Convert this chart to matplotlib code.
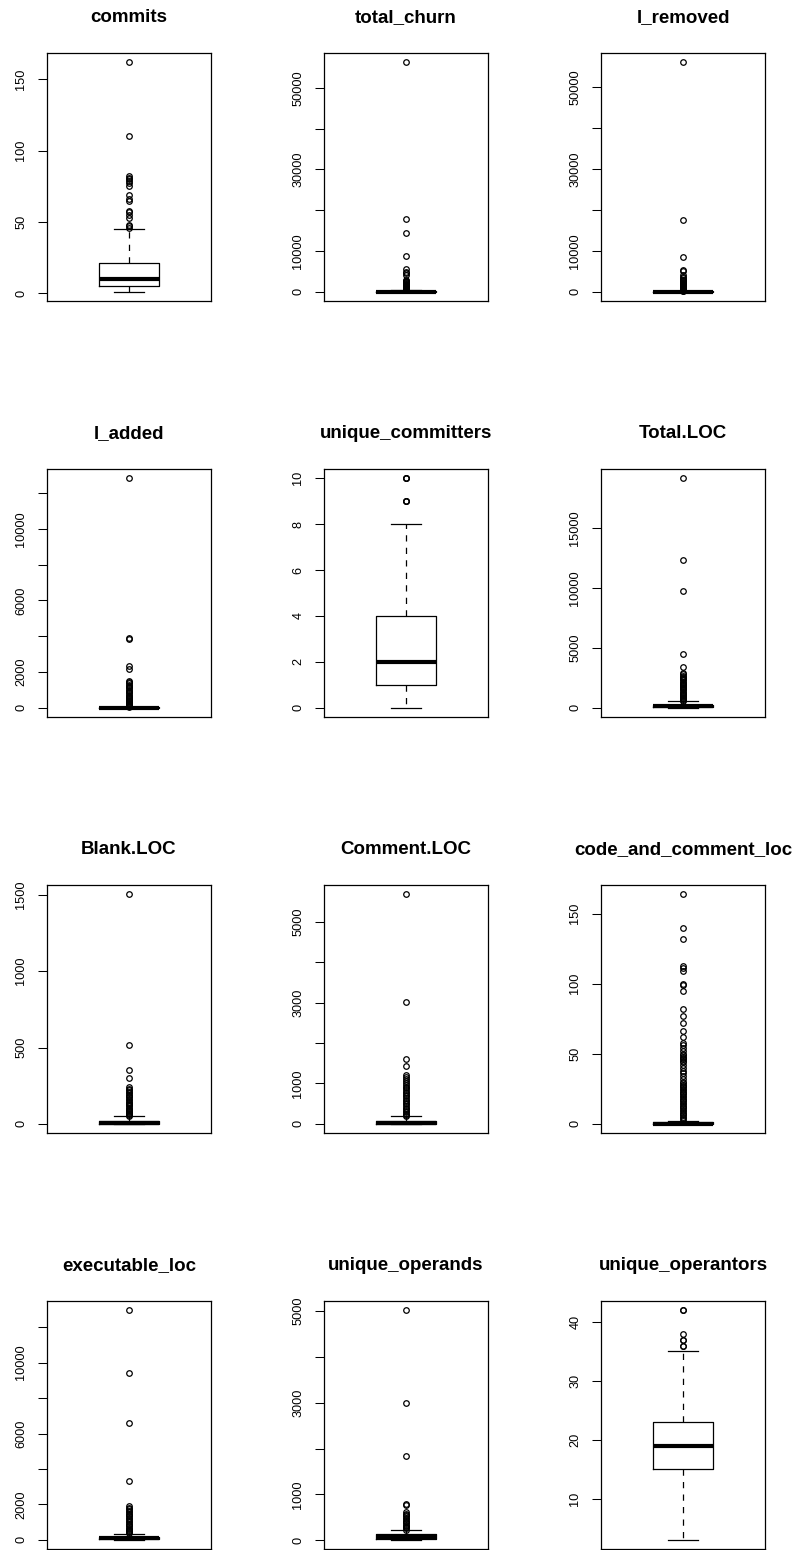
import matplotlib
matplotlib.use('Agg')
import matplotlib.pyplot as plt

plt.rc('font', family=['Liberation Sans', 'DejaVu Sans'])

# ---- data (R-style boxplot summaries) ----
names = ['commits', 'total_churn', 'l_removed',
         'l_added', 'unique_committers', 'Total.LOC',
         'Blank.LOC', 'Comment.LOC', 'code_and_comment_loc',
         'executable_loc', 'unique_operands', 'unique_operantors']

# whislo, q1, median, q3, whishi
commits_box = [1, 5, 10, 21, 45]
commits_out = [46, 47, 48, 53, 55, 57, 58, 65, 66, 69, 75, 77, 79, 80, 81, 82,
               110, 162]

churn_box = [0, 10, 40, 150, 350]
churn_out = [380, 420, 470, 520, 580, 640, 710, 790, 870, 950, 1040, 1130,
             1230, 1340, 1460, 1580, 1720, 1860, 2000, 2150, 2300, 2450, 2600,
             2750, 2900, 4100, 4600, 4950, 5500, 8800, 14300, 17800, 56300]

removed_box = [0, 5, 20, 80, 200]
removed_out = [250, 290, 340, 400, 460, 530, 610, 700, 800, 900, 1010, 1130,
               1260, 1400, 1550, 1700, 1860, 2030, 2200, 2400, 2600, 2800,
               3000, 3300, 3700, 4160, 4980, 5380, 8400, 17600, 56100]

added_box = [0, 2, 8, 20, 50]
added_out = [60, 90, 120, 150, 190, 230, 270, 320, 370, 420, 480, 540, 600,
             660, 730, 800, 870, 940, 1010, 1080, 1150, 1220, 1300, 1370,
             1440, 1520, 2150, 2340, 3850, 3900, 12820]

committers_box = [0, 1, 2, 4, 8]
committers_out = [9, 9, 9, 10, 10, 10]

total_loc_box = [0, 40, 110, 230, 560]
total_loc_out = [600, 680, 760, 840, 920, 1000, 1090, 1180, 1270, 1360, 1450,
                 1540, 1630, 1720, 1810, 1900, 2000, 2100, 2200, 2300, 2400,
                 2500, 2600, 2700, 2800, 2900, 3400, 4480, 9800, 12400, 19200]

blank_box = [0, 2, 6, 21, 50]
blank_out = [52, 58, 64, 70, 77, 84, 91, 98, 106, 114, 122, 130, 138, 146,
             155, 164, 173, 182, 191, 200, 210, 220, 230, 241, 303, 351, 515,
             1505]

comment_box = [0, 5, 25, 75, 182]
comment_out = [190, 220, 250, 285, 320, 360, 400, 440, 480, 520, 560, 600,
               640, 680, 720, 760, 800, 840, 880, 920, 960, 1000, 1050, 1100,
               1150, 1200, 1434, 1609, 3020, 5690]

cc_box = [0, 0, 0, 1, 2]
cc_out = [3, 4, 5, 6, 7, 8, 9, 10, 11, 12, 13, 14, 15, 16, 17, 18, 19, 20, 21,
          22, 23, 24, 25, 26, 27, 28, 29, 30, 32, 34, 36, 38, 40, 42, 44, 45,
          46, 47, 48, 49, 50, 52, 54, 56, 58, 62, 66, 72, 77, 82, 95, 99, 100,
          109, 111, 113, 132, 140, 164]

exec_box = [0, 30, 90, 170, 340]
exec_out = [360, 420, 480, 550, 620, 690, 760, 840, 920, 1000, 1080, 1160,
            1240, 1320, 1400, 1480, 1560, 1640, 1720, 1810, 1890, 3320, 6570,
            9400, 12960]

operands_box = [10, 36, 75, 128, 226]
operands_out = [235, 260, 285, 310, 340, 370, 400, 430, 460, 490, 520, 550,
                580, 620, 760, 790, 1840, 3000, 5020]

operators_box = [3, 15, 19, 23, 35]
operators_out = [36, 36, 37, 37, 38, 42, 42]

# y tick positions and the labels R kept (blank = label dropped for overlap)
commits_ticks = [0, 50, 100, 150]
commits_labels = ['0', '50', '100', '150']
churn_ticks = [0, 10000, 20000, 30000, 40000, 50000]
churn_labels = ['0', '10000', '', '30000', '', '50000']
added_ticks = [0, 2000, 4000, 6000, 8000, 10000, 12000]
added_labels = ['0', '2000', '', '6000', '', '10000', '']
committers_ticks = [0, 2, 4, 6, 8, 10]
committers_labels = ['0', '2', '4', '6', '8', '10']
total_loc_ticks = [0, 5000, 10000, 15000]
total_loc_labels = ['0', '5000', '10000', '15000']
blank_ticks = [0, 500, 1000, 1500]
blank_labels = ['0', '500', '1000', '1500']
comment_ticks = [0, 1000, 2000, 3000, 4000, 5000]
comment_labels = ['0', '1000', '', '3000', '', '5000']
cc_ticks = [0, 50, 100, 150]
cc_labels = ['0', '50', '100', '150']
operators_ticks = [10, 20, 30, 40]
operators_labels = ['10', '20', '30', '40']

panels = [
    (commits_box, commits_out, commits_ticks, commits_labels),
    (churn_box, churn_out, churn_ticks, churn_labels),
    (removed_box, removed_out, churn_ticks, churn_labels),
    (added_box, added_out, added_ticks, added_labels),
    (committers_box, committers_out, committers_ticks, committers_labels),
    (total_loc_box, total_loc_out, total_loc_ticks, total_loc_labels),
    (blank_box, blank_out, blank_ticks, blank_labels),
    (comment_box, comment_out, comment_ticks, comment_labels),
    (cc_box, cc_out, cc_ticks, cc_labels),
    (exec_box, exec_out, added_ticks, added_labels),
    (operands_box, operands_out, comment_ticks, comment_labels),
    (operators_box, operators_out, operators_ticks, operators_labels),
]

W, H = 799, 1550
fig = plt.figure(figsize=(W / 100, H / 100), dpi=100)

col_left = [47, 324, 601]
row_top = [53, 469, 885, 1301]
ax_w, ax_h = 164, 248

for i, (name, (box, out, ticks, labels)) in enumerate(zip(names, panels)):
    r, c = divmod(i, 3)
    ax = fig.add_axes([col_left[c] / W, 1 - (row_top[r] + ax_h) / H,
                       ax_w / W, ax_h / H])
    stats = [dict(whislo=box[0], q1=box[1], med=box[2], q3=box[3],
                  whishi=box[4], fliers=out)]
    ax.bxp(stats, positions=[1], widths=0.4, showfliers=True,
           boxprops=dict(color='black', linewidth=0.9),
           medianprops=dict(color='black', linewidth=3, solid_capstyle='butt'),
           whiskerprops=dict(color='black', linewidth=0.9,
                             linestyle=(0, (5, 5))),
           capprops=dict(color='black', linewidth=0.9),
           flierprops=dict(marker='o', markerfacecolor='none',
                           markeredgecolor='black', markersize=4,
                           markeredgewidth=0.9))

    # R style: data range padded by 4 %
    lo = min([box[0]] + out)
    hi = max([box[4]] + out)
    rng = hi - lo
    ax.set_ylim(lo - 0.04 * rng, hi + 0.04 * rng)
    ax.set_xlim(0.46, 1.54)

    ax.set_xticks([])
    ax.set_yticks(ticks)
    ax.set_yticklabels(labels)
    ax.tick_params(axis='y', length=6.7, width=0.75, pad=7.5, labelsize=9.2,
                   labelrotation=90)
    for lab in ax.get_yticklabels():
        lab.set_va('center')
    for sp in ax.spines.values():
        sp.set_linewidth(0.9)

    ax.set_title(name, fontsize=13.5, fontweight='bold', pad=22)

fig.savefig('out.png', dpi=100)
